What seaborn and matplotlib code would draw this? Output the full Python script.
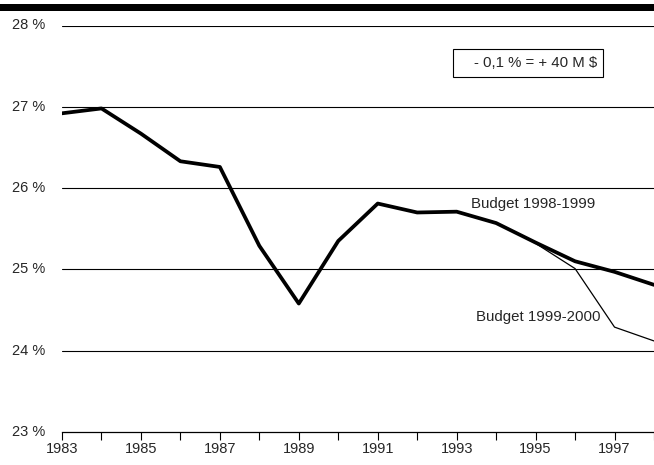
import matplotlib
matplotlib.use("Agg")
import matplotlib.pyplot as plt
import seaborn as sns
import pandas as pd
from matplotlib.patches import Rectangle

years = list(range(1983, 1999))
budget_9899 = [26.92, 26.98, 26.67, 26.33, 26.26, 25.29, 24.58, 25.35,
               25.81, 25.70, 25.71, 25.57, 25.33, 25.10, 24.97, 24.81]
years_0000 = [1994, 1995, 1996, 1997, 1998]
budget_9900 = [25.57, 25.32, 25.01, 24.29, 24.12]
ytick_vals = [23, 24, 25, 26, 27, 28]
ytick_labels = ["23 %", "24 %", "25 %", "26 %", "27 %", "28 %"]
box_text = "- 0,1 % = + 40 M $"
label_a = "Budget 1998-1999"
label_b = "Budget 1999-2000"

sns.set_theme(style="white")
plt.rcParams['font.family'] = ['Liberation Sans', 'DejaVu Sans']

fig = plt.figure(figsize=(6.54, 4.65), dpi=100)
ax = fig.add_axes([62/654, 1-432/465, 1-62/654, (432-25.5)/465])

df_a = pd.DataFrame({"year": years, "value": budget_9899})
df_b = pd.DataFrame({"year": years_0000, "value": budget_9900})

for v in ytick_vals[1:]:
    ax.axhline(v, color="black", lw=0.8, zorder=1)

sns.lineplot(data=df_b, x="year", y="value", ax=ax, color="black", lw=0.9, zorder=2)
sns.lineplot(data=df_a, x="year", y="value", ax=ax, color="black", lw=2.7, zorder=3)

ax.set_xlim(1983, 1998)
ax.set_ylim(23, 28)
ax.set_xlabel("")
ax.set_ylabel("")
ax.set_yticks(ytick_vals)
ax.set_yticklabels(ytick_labels, fontsize=10.5)
ax.set_xticks(years)
ax.set_xticklabels([str(y) if (y - 1983) % 2 == 0 else "" for y in years], fontsize=10.5)
ax.tick_params(axis="x", direction="out", length=6, width=0.8, color="black", pad=1, bottom=True)
ax.tick_params(axis="y", length=0, pad=12)
for s in ["top", "right", "left"]:
    ax.spines[s].set_visible(False)
ax.spines["bottom"].set_color("black")
ax.spines["bottom"].set_linewidth(0.9)
for t in ax.get_yticklabels():
    t.set_verticalalignment("center")

# annotation box
ax.add_patch(Rectangle((0.6605, 0.874), 0.2534, 0.0675, transform=ax.transAxes,
                       fc="white", ec="black", lw=0.8, zorder=4))
ax.text(0.9037, 0.9077, box_text, transform=ax.transAxes, fontsize=10.8,
        ha="right", va="center", zorder=5)
ax.text(1994.93, 25.81, label_a, fontsize=10.8, ha="center", va="center")
ax.text(1995.06, 24.42, label_b, fontsize=10.8, ha="center", va="center")

fig.add_artist(Rectangle((0, 1-11/465), 1, 7/465, transform=fig.transFigure,
                         color="black", lw=0))

fig.savefig("out.png", dpi=100)
